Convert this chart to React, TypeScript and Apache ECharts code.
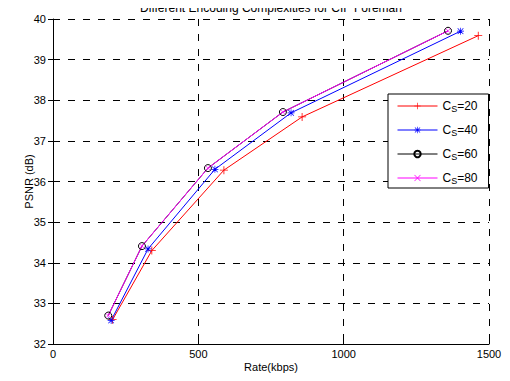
import React, { useEffect, useRef } from "react";
import * as echarts from "echarts";

const rateCs20 = [205, 340, 588, 857, 1463];
const psnrCs20 = [32.6, 34.3, 36.28, 37.59, 39.59];
const rateCs40 = [200, 327, 557, 819, 1402];
const psnrCs40 = [32.58, 34.34, 36.3, 37.69, 39.7];
const rateCs60 = [190, 306, 533, 791, 1359];
const psnrCs60 = [32.7, 34.41, 36.33, 37.71, 39.71];
const rateCs80 = [190, 306, 533, 791, 1359];
const psnrCs80 = [32.7, 34.41, 36.33, 37.71, 39.71];
const seriesNames = ["20", "40", "60", "80"];
const TITLE = "Different Encoding Complexities for CIF Foreman";

const FONT = "'Liberation Sans', Arial, sans-serif";

const PLUS =
  "path://M4.5,0 H5.5 V4.5 H10 V5.5 H5.5 V10 H4.5 V5.5 H0 V4.5 H4.5 Z";
const XMARK =
  "path://M0.7,0 L5,4.3 L9.3,0 L10,0.7 L5.7,5 L10,9.3 L9.3,10 L5,5.7 L0.7,10 L0,9.3 L4.3,5 L0,0.7 Z";
const STAR =
  "path://M4.5,0 H5.5 V4.5 H10 V5.5 H5.5 V10 H4.5 V5.5 H0 V4.5 H4.5 Z M1.3,0.6 L5,4.3 L8.7,0.6 L9.4,1.3 L5.7,5 L9.4,8.7 L8.7,9.4 L5,5.7 L1.3,9.4 L0.6,8.7 L4.3,5 L0.6,1.3 Z";

function pairs(xs: number[], ys: number[]) {
  return xs.map((x, i) => [x, ys[i]]);
}

export default function App() {
  const ref = useRef<HTMLDivElement>(null);
  useEffect(() => {
    if (!ref.current) return;
    const chart = echarts.init(ref.current, undefined, { renderer: "svg" });
    const gridDash = { color: "#000", width: 1, type: [7, 8] as number[] };
    const mk = (
      name: string,
      xs: number[],
      ys: number[],
      color: string,
      symbol: string,
      size: number,
      hollow?: boolean
    ) => ({
      name,
      type: "line",
      data: pairs(xs, ys),
      symbol,
      symbolSize: size,
      showSymbol: true,
      lineStyle: { color, width: 1 },
      itemStyle: hollow
        ? { color: "rgba(0,0,0,0)", borderColor: color, borderWidth: 1 }
        : { color, borderWidth: 0 },
      emphasis: { disabled: true },
      z: 3,
    });
    chart.setOption({
      animation: false,
      backgroundColor: "#fff",
      graphic: [
        {
          type: "text",
          x: 271,
          y: 2,
          z: 10,
          style: {
            text: TITLE,
            fontFamily: FONT,
            fontSize: 12,
            fill: "#000",
            align: "center",
            verticalAlign: "top",
          },
        },
      ],
      grid: { left: 53, right: 21, top: 19, bottom: 37 },
      legend: {
        left: 388,
        top: 94,
        orient: "vertical",
        data: seriesNames.map((s) => "C{sub|S}=" + s),
        itemWidth: 40,
        itemHeight: 8,
        itemGap: 10,
        padding: [5, 11, 3, 9],
        borderColor: "#000",
        borderWidth: 1,
        backgroundColor: "#fff",
        lineStyle: { width: 1 },
        textStyle: {
          fontFamily: FONT,
          fontSize: 12,
          color: "#000",
          lineHeight: 14,
          rich: {
            sub: {
              fontFamily: FONT,
              fontSize: 9,
              lineHeight: 8,
              verticalAlign: "bottom",
              color: "#000",
            },
          },
        },
      },
      xAxis: [
        {
          type: "value",
          min: 0,
          max: 1500,
          interval: 500,
          name: "Rate(kbps)",
          nameLocation: "middle",
          nameGap: 17,
          nameMoveOverlap: false,
          nameTextStyle: { fontFamily: FONT, fontSize: 11, color: "#000" },
          axisLine: { show: true, onZero: false, lineStyle: { color: "#000", width: 1 } },
          axisTick: { show: true, inside: true, length: 5, lineStyle: { color: "#000" } },
          axisLabel: {
            fontFamily: FONT,
            fontSize: 11,
            color: "#000",
            margin: 4,
            formatter: (v: number) => String(v),
          },
          splitLine: { show: true, lineStyle: gridDash },
        },
        {
          type: "value",
          position: "top",
          min: 0,
          max: 1500,
          interval: 500,
          axisLine: { show: false },
          axisTick: { show: true, inside: true, length: 5, lineStyle: { color: "#000" } },
          axisLabel: { show: false },
          splitLine: { show: false },
        },
      ],
      yAxis: [
        {
          type: "value",
          min: 32,
          max: 40,
          interval: 1,
          name: "PSNR (dB)",
          nameLocation: "middle",
          nameGap: 19,
          nameMoveOverlap: false,
          nameTextStyle: { fontFamily: FONT, fontSize: 11, color: "#000" },
          axisLine: { show: true, onZero: false, lineStyle: { color: "#000", width: 1 } },
          axisTick: { show: true, inside: true, length: 5, lineStyle: { color: "#000" } },
          axisLabel: { fontFamily: FONT, fontSize: 11, color: "#000", margin: 7 },
          splitLine: { show: true, lineStyle: gridDash },
        },
        {
          type: "value",
          position: "right",
          min: 32,
          max: 40,
          interval: 1,
          axisLine: { show: false },
          axisTick: { show: true, inside: true, length: 5, lineStyle: { color: "#000" } },
          axisLabel: { show: false },
          splitLine: { show: false },
        },
      ],
      series: [
        mk("C{sub|S}=20", rateCs20, psnrCs20, "#ff0000", PLUS, 8),
        mk("C{sub|S}=40", rateCs40, psnrCs40, "#0000ff", STAR, 7),
        mk("C{sub|S}=60", rateCs60, psnrCs60, "#000000", "circle", 7, true),
        mk("C{sub|S}=80", rateCs80, psnrCs80, "#ff00ff", XMARK, 5),
      ],
    });
    return () => chart.dispose();
  }, []);
  return <div ref={ref} style={{ width: 510, height: 381, margin: -8 }} />;
}
